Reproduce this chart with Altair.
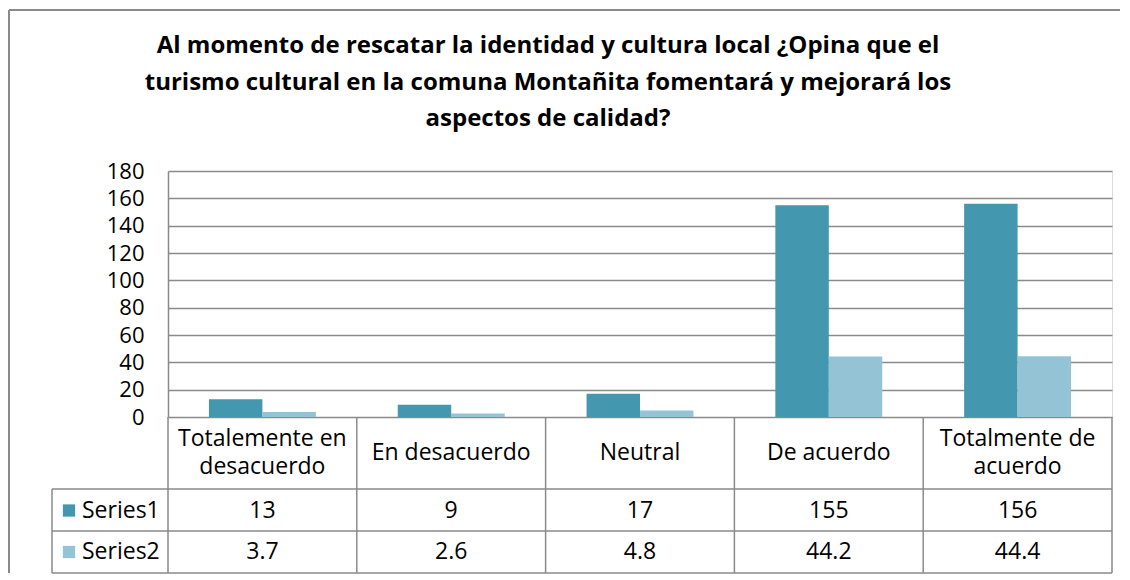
import altair as alt
import pandas as pd

# ---- data ----
categories = ["Totalemente en\ndesacuerdo", "En desacuerdo", "Neutral", "De acuerdo", "Totalmente de\nacuerdo"]
series_names = ["Series1", "Series2"]
series1 = [13, 9, 17, 155, 156]
series2 = [3.7, 2.6, 4.8, 44.2, 44.4]
y_ticks = [0, 20, 40, 60, 80, 100, 120, 140, 160, 180]
colors = ["#4397AE", "#93C3D4"]
title_text = ("Al momento de rescatar la identidad y cultura local ¿Opina que el\n"
              "turismo cultural en la comuna Montañita fomentará y mejorará los\n"
              "aspectos de calidad?")

rows = []
for name, vals in zip(series_names, [series1, series2]):
    for c, v in zip(categories, vals):
        rows.append({"category": c, "series": name, "value": v, "label": f"{v:g}"})
df = pd.DataFrame(rows)
cat_df = pd.DataFrame({"category": categories})
cat_df["lines"] = cat_df["category"].str.count("\n") + 1

FONT = "Open Sans"
GRID = "#8a8a8a"
TFS = 23         # table font size
H = 246          # plot height (0..180)
W = 944          # plot width

x_scale = alt.Scale(domain=categories, padding=0)
x_enc = alt.X("category:N", scale=x_scale, axis=None, sort=categories)
color_enc = alt.Color("series:N", scale=alt.Scale(domain=series_names, range=colors), legend=None)

bars = alt.Chart(df).mark_bar().encode(
    x=x_enc,
    xOffset=alt.XOffset("series:N", scale=alt.Scale(domain=series_names, paddingInner=0, paddingOuter=0.766)),
    y=alt.Y("value:Q", scale=alt.Scale(domain=[0, 180], nice=False),
            axis=alt.Axis(values=y_ticks, title=None, grid=True, gridColor=GRID, gridWidth=1.5,
                          domainColor=GRID, domainWidth=1.5, ticks=False,
                          labelFont=FONT, labelFontSize=22, labelColor="black", labelPadding=24)),
    color=color_enc,
)

layers = [bars]

# table header (category names): one-line and two-line cells
for n_lines, yy in [(1, 282), (2, 268)]:
    sub = cat_df[cat_df["lines"] == n_lines]
    layers.append(alt.Chart(sub).mark_text(font=FONT, fontSize=TFS, color="black", lineBreak="\n",
                                           lineHeight=28, baseline="middle").encode(
        x=x_enc, y=alt.value(yy), text="category:N"))

row_y = {"Series1": 339.5, "Series2": 381}
for name in series_names:
    sub = df[df["series"] == name]
    layers.append(alt.Chart(sub).mark_text(font=FONT, fontSize=TFS, color="black", baseline="middle").encode(
        x=x_enc, y=alt.value(row_y[name]), text="label:N"))
    leg = pd.DataFrame({"series": [name]})
    layers.append(alt.Chart(leg).mark_square(size=150, opacity=1).encode(
        x=alt.value(-99), y=alt.value(row_y[name]), color=color_enc))
    layers.append(alt.Chart(leg).mark_text(font=FONT, fontSize=TFS, color="black", align="left",
                                           baseline="middle").encode(
        x=alt.value(-86), y=alt.value(row_y[name]), text="series:N"))

# table lines
line_style = dict(color=GRID, strokeWidth=1.5)
one = cat_df.head(1)
for yy in [318, 360, 402]:
    layers.append(alt.Chart(one).mark_rule(**line_style).encode(
        x=alt.value(-116), x2=alt.value(W), y=alt.value(yy)))
layers.append(alt.Chart(one).mark_rule(**line_style).encode(
    x=alt.value(-116), y=alt.value(318), y2=alt.value(402)))
layers.append(alt.Chart(cat_df).mark_rule(**line_style).encode(
    x=alt.X("category:N", bandPosition=0, scale=x_scale, axis=None, sort=categories),
    y=alt.value(H), y2=alt.value(402)))
layers.append(alt.Chart(cat_df.tail(1)).mark_rule(**line_style).encode(
    x=alt.X("category:N", bandPosition=1, scale=x_scale, axis=None, sort=categories),
    y=alt.value(H), y2=alt.value(402)))

# title
layers.append(alt.Chart(one).mark_text(font=FONT, fontSize=24, fontWeight="bold", color="black",
                                       lineBreak="\n", lineHeight=36.5, baseline="middle").encode(
    x=alt.value(380), y=alt.value(-125), text=alt.value(title_text)))

# outer frame
frame = dict(color=GRID, strokeWidth=2)
layers.append(alt.Chart(one).mark_rule(**frame).encode(
    x=alt.value(-159), x2=alt.value(952), y=alt.value(-161)))
layers.append(alt.Chart(one).mark_rule(**frame).encode(
    x=alt.value(-159), y=alt.value(-161), y2=alt.value(402)))

chart = alt.layer(*layers).properties(
    width=W, height=H, padding={"left": 0, "top": 1, "right": 0, "bottom": 0}
).configure_view(stroke=None).configure(background="white")

chart.save("out.html", embed_options={"renderer": "svg", "actions": False})
